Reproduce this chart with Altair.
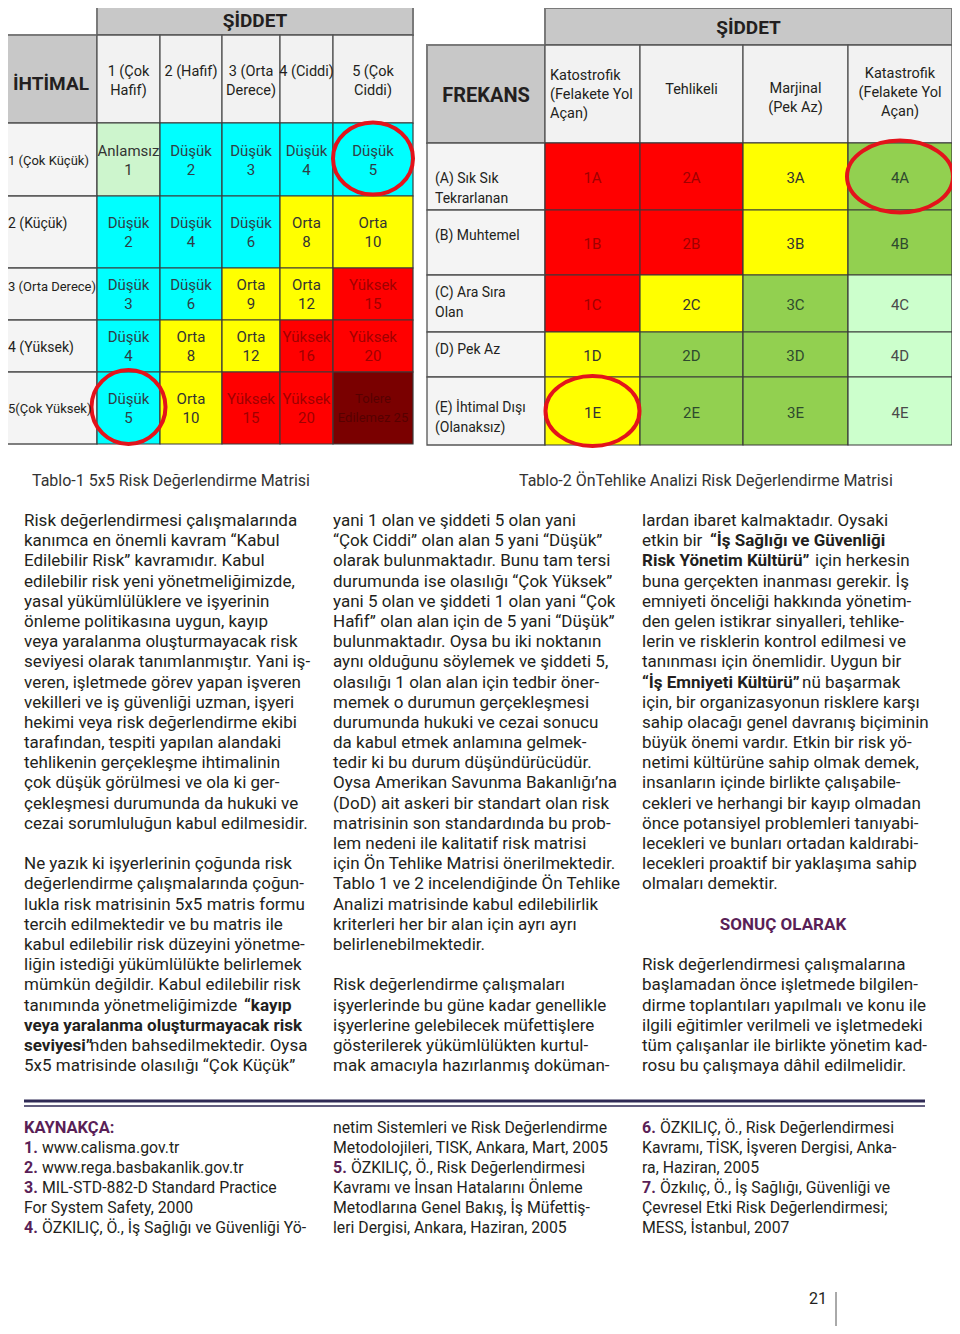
import re
import altair as alt
import pandas as pd

# ------------------------------------------------------------------ data
T1_SEVERITY = ["1 (Çok\nHafif)", "2 (Hafif)", "3 (Orta\nDerece)", "4 (Ciddi)", "5 (Çok\nCiddi)"]
T1_LIKELIHOOD = ["1 (Çok Küçük)", "2 (Küçük)", "3 (Orta Derece)", "4 (Yüksek)", "5(Çok Yüksek)"]
T1_LEVEL = [
    ["Anlamsız", "Düşük", "Düşük", "Düşük", "Düşük"],
    ["Düşük", "Düşük", "Düşük", "Orta", "Orta"],
    ["Düşük", "Düşük", "Orta", "Orta", "Yüksek"],
    ["Düşük", "Orta", "Orta", "Yüksek", "Yüksek"],
    ["Düşük", "Orta", "Yüksek", "Yüksek", "Tolere Edilemez"],
]
T1_SCORE = [
    [1, 2, 3, 4, 5],
    [2, 4, 6, 8, 10],
    [3, 6, 9, 12, 15],
    [4, 8, 12, 16, 20],
    [5, 10, 15, 20, 25],
]
T1_CIRCLED = [(0, 4), (4, 0)]
T1_TITLE = "ŞİDDET"
T1_CORNER = "İHTİMAL"

T2_SEVERITY = ["Katostrofik\n(Felakete Yol\nAçan)", "Tehlikeli", "Marjinal\n(Pek Az)",
               "Katastrofik\n(Felakete Yol\nAçan)"]
T2_FREQUENCY = ["(A) Sık Sık\nTekrarlanan", "(B) Muhtemel", "(C) Ara Sıra\nOlan", "(D) Pek Az",
                "(E) İhtimal Dışı\n(Olanaksız)"]
T2_CODES = ["A", "B", "C", "D", "E"]
T2_LEVEL = [
    ["red", "red", "yellow", "green"],
    ["red", "red", "yellow", "green"],
    ["red", "yellow", "green", "light"],
    ["yellow", "green", "green", "light"],
    ["yellow", "green", "green", "light"],
]
T2_CIRCLED = [(0, 3), (4, 0)]
T2_TITLE = "ŞİDDET"
T2_CORNER = "FREKANS"

CAPTIONS = ["Tablo-1  5x5 Risk Değerlendirme Matrisi",
            "Tablo-2 ÖnTehlike Analizi Risk Değerlendirme Matrisi"]

BODY_COL1 = [
    "Risk değerlendirmesi çalışmalarında",
    "kanımca en önemli kavram “Kabul",
    "Edilebilir Risk” kavramıdır. Kabul",
    "edilebilir risk yeni yönetmeliğimizde,",
    "yasal yükümlülüklere ve işyerinin",
    "önleme politikasına uygun, kayıp",
    "veya yaralanma oluşturmayacak risk",
    "seviyesi olarak tanımlanmıştır. Yani iş-",
    "veren, işletmede görev yapan işveren",
    "vekilleri ve iş güvenliği uzman, işyeri",
    "hekimi veya risk değerlendirme ekibi",
    "tarafından, tespiti yapılan alandaki",
    "tehlikenin gerçekleşme ihtimalinin",
    "çok düşük görülmesi ve ola ki ger-",
    "çekleşmesi durumunda da hukuki ve",
    "cezai sorumluluğun kabul edilmesidir.",
    "",
    "Ne yazık ki işyerlerinin çoğunda risk",
    "değerlendirme çalışmalarında çoğun-",
    "lukla risk matrisinin 5x5 matris formu",
    "tercih edilmektedir ve bu matris ile",
    "kabul edilebilir risk düzeyini yönetme-",
    "liğin istediği yükümlülükte belirlemek",
    "mümkün değildir. Kabul edilebilir risk",
    "tanımında yönetmeliğimizde **“kayıp",
    "**veya yaralanma oluşturmayacak risk",
    "**seviyesi”**nden bahsedilmektedir. Oysa",
    "5x5 matrisinde olasılığı “Çok Küçük”",
]
BODY_COL2 = [
    "yani 1 olan ve şiddeti 5 olan yani",
    "“Çok Ciddi” olan alan 5 yani “Düşük”",
    "olarak bulunmaktadır. Bunu tam tersi",
    "durumunda ise olasılığı “Çok Yüksek”",
    "yani 5 olan ve şiddeti 1 olan yani “Çok",
    "Hafif” olan alan için de 5 yani “Düşük”",
    "bulunmaktadır. Oysa bu iki noktanın",
    "aynı olduğunu söylemek ve şiddeti 5,",
    "olasılığı 1 olan alan için tedbir öner-",
    "memek o durumun gerçekleşmesi",
    "durumunda hukuki ve cezai sonucu",
    "da kabul etmek anlamına gelmek-",
    "tedir ki bu durum düşündürücüdür.",
    "Oysa Amerikan Savunma Bakanlığı’na",
    "(DoD) ait askeri bir standart olan risk",
    "matrisinin son standardında bu prob-",
    "lem nedeni ile kalitatif risk matrisi",
    "için Ön Tehlike Matrisi önerilmektedir.",
    "Tablo 1 ve 2 incelendiğinde Ön Tehlike",
    "Analizi matrisinde kabul edilebilirlik",
    "kriterleri her bir alan için ayrı ayrı",
    "belirlenebilmektedir.",
    "",
    "Risk değerlendirme çalışmaları",
    "işyerlerinde bu güne kadar genellikle",
    "işyerlerine gelebilecek müfettişlere",
    "gösterilerek yükümlülükten kurtul-",
    "mak amacıyla hazırlanmış doküman-",
]
BODY_COL3 = [
    "lardan ibaret kalmaktadır. Oysaki",
    "etkin bir **“İş Sağlığı ve Güvenliği",
    "**Risk Yönetim Kültürü”** için herkesin",
    "buna gerçekten inanması gerekir. İş",
    "emniyeti önceliği hakkında yönetim-",
    "den gelen istikrar sinyalleri, tehlike-",
    "lerin ve risklerin kontrol edilmesi ve",
    "tanınması için önemlidir. Uygun bir",
    "**“İş Emniyeti Kültürü”** nü başarmak",
    "için, bir organizasyonun risklere karşı",
    "sahip olacağı genel davranış biçiminin",
    "büyük önemi vardır. Etkin bir risk yö-",
    "netimi kültürüne sahip olmak demek,",
    "insanların içinde birlikte çalışabile-",
    "cekleri ve herhangi bir kayıp olmadan",
    "önce potansiyel problemleri tanıyabi-",
    "lecekleri ve bunları ortadan kaldırabi-",
    "lecekleri proaktif bir yaklaşıma sahip",
    "olmaları demektir.",
    "",
    "",
    "",
    "Risk değerlendirmesi çalışmalarına",
    "başlamadan önce işletmede bilgilen-",
    "dirme toplantıları yapılmalı ve konu ile",
    "ilgili eğitimler verilmeli ve işletmedeki",
    "tüm çalışanlar ile birlikte yönetim kad-",
    "rosu bu çalışmaya dâhil edilmelidir.",
]
HEADING = "SONUÇ OLARAK"

REF_HEADING = "KAYNAKÇA:"
REF_COL1 = ["", "1. www.calisma.gov.tr", "2. www.rega.basbakanlik.gov.tr",
            "3. MIL-STD-882-D Standard Practice", "For System Safety, 2000",
            "4. ÖZKILIÇ, Ö., İş Sağlığı ve Güvenliği Yö-"]
REF_COL2 = ["netim Sistemleri ve Risk Değerlendirme", "Metodolojileri, TISK, Ankara, Mart, 2005",
            "5. ÖZKILIÇ, Ö., Risk Değerlendirmesi", "Kavramı ve İnsan Hatalarını Önleme",
            "Metodlarına Genel Bakış, İş Müfettiş-", "leri Dergisi, Ankara, Haziran, 2005"]
REF_COL3 = ["6. ÖZKILIÇ, Ö., Risk Değerlendirmesi", "Kavramı, TİSK, İşveren Dergisi, Anka-",
            "ra, Haziran, 2005", "7. Özkılıç, Ö., İş Sağlığı, Güvenliği ve",
            "Çevresel Etki Risk Değerlendirmesi;", "MESS, İstanbul, 2007"]
PAGE_NUMBER = "21"

# ------------------------------------------------------------------ styles / layout
FONT = "Roboto"
TXT = "#231f20"
PURPLE = "#5a1f57"
GRID = "#555555"
HEAD_GRAY = "#c8c8c8"
HEAD_LIGHT = "#f2f2f2"

T1_FILL = {"Anlamsız": "#cdf5cd", "Düşük": "#00ffff", "Orta": "#ffff00",
           "Yüksek": "#ff0000", "Tolere Edilemez": "#7a0000"}
T1_INK = {"Anlamsız": "#333333", "Düşük": "#2f3e46", "Orta": "#333333",
          "Yüksek": "#a00000", "Tolere Edilemez": "#560000"}
T2_FILL = {"red": "#ff0000", "yellow": "#ffff00", "green": "#92d050", "light": "#ccffcc"}
T2_INK = {"red": "#a00000", "yellow": "#333333", "green": "#2e4a2e", "light": "#4a4a4a"}

T1_COLS = [5, 97, 160, 222, 280, 333, 413]
T1_TOP, T1_HEAD, T1_BODY = 5, 35, 123
T1_ROWS = [123, 196, 268, 320, 372, 444]
T1_LABEL_Y = [161, 224, 287, 348, 409]
T1_HEAD_Y = 72

T2_COLS = [427, 545, 640, 743, 848, 952]
T2_TOP, T2_HEAD, T2_BODY = 8, 45, 143
T2_ROWS = [143, 210, 275, 332, 377, 445]
T2_LABEL_Y = [179, 236, 293, 350, 408]
T2_HEAD_Y = [76, 90, 89, 74]
T2_HEAD_ALIGN = ["left", "center", "center", "center"]

T1_CIRCLE_WH = [(80, 72), (74, 74)]
T2_CIRCLE_WH = [(106, 72), (94, 70)]

COL_X = [24, 333, 642]
BODY_SIZE = 17
BODY_Y0, BODY_LH = 521, 20.19
SEG_X = {(0, 24, 1): 244, (0, 26, 2): 90, (2, 1, 1): 710, (2, 2, 2): 815, (2, 8, 2): 802}
REF_Y0, REF_LH = 1128, 20
REF_SIZE = 15.8

X0, X1, Y0, Y1 = 8, 952, 8, 1326
XS = alt.Scale(domain=[X0, X1], nice=False, zero=False)
YS = alt.Scale(domain=[Y0, Y1], nice=False, zero=False, reverse=True)

rect_rows, text_rows, circ_rows = [], [], []


def add_rect(x, x2, y, y2, fill, stroke=GRID, sw=1.3):
    rect_rows.append(dict(x=x, x2=x2, y=y, y2=y2, fill=fill, stroke=stroke, sw=sw))


def add_text(x, y, text, size=15, weight="normal", align="center", color=TXT, lh=19):
    for k, line in enumerate(text.split("\n")):
        text_rows.append(dict(x=x, y=y + k * lh, text=line, size=size, weight=weight,
                              align=align, color=color))


def ellipse(w, h):
    a = h / w
    return f"M -1 0 A 1 {a:.3f} 0 1 1 1 0 A 1 {a:.3f} 0 1 1 -1 0 Z"


# ---- table 1
add_rect(T1_COLS[1], T1_COLS[-1], T1_TOP, T1_HEAD, HEAD_GRAY, "#7a7a7a", 2)
add_text((T1_COLS[1] + T1_COLS[-1]) / 2, (T1_TOP + T1_HEAD) / 2 + 1, T1_TITLE, 19, "bold")
add_rect(T1_COLS[0], T1_COLS[1], T1_HEAD, T1_BODY, HEAD_GRAY, "#7a7a7a", 2)
add_text((T1_COLS[0] + T1_COLS[1]) / 2, (T1_HEAD + T1_BODY) / 2 + 5, T1_CORNER, 19, "bold")
for j, lab in enumerate(T1_SEVERITY):
    add_rect(T1_COLS[j + 1], T1_COLS[j + 2], T1_HEAD, T1_BODY, HEAD_LIGHT)
    add_text((T1_COLS[j + 1] + T1_COLS[j + 2]) / 2, T1_HEAD_Y, lab, 14.5)
for i, lab in enumerate(T1_LIKELIHOOD):
    add_rect(T1_COLS[0], T1_COLS[1], T1_ROWS[i], T1_ROWS[i + 1], "#f4f4f4")
    add_text(T1_COLS[0] + 3, T1_LABEL_Y[i], lab, 13 if len(lab) > 12 else 14, align="left")
    for j in range(5):
        lev = T1_LEVEL[i][j]
        x0, x1 = T1_COLS[j + 1], T1_COLS[j + 2]
        y0, y1 = T1_ROWS[i], T1_ROWS[i + 1]
        add_rect(x0, x1, y0, y1, T1_FILL[lev], "#3a3a3a", 1.2)
        if lev == "Tolere Edilemez":
            lab2 = f"Tolere\nEdilemez {T1_SCORE[i][j]}"
        else:
            lab2 = f"{lev}\n{T1_SCORE[i][j]}"
        add_text((x0 + x1) / 2, (y0 + y1) / 2 - 9, lab2, 15 if lev != "Tolere Edilemez" else 13,
                 color=T1_INK[lev])
for (i, j), (w, h) in zip(T1_CIRCLED, T1_CIRCLE_WH):
    circ_rows.append(dict(x=(T1_COLS[j + 1] + T1_COLS[j + 2]) / 2,
                          y=(T1_ROWS[i] + T1_ROWS[i + 1]) / 2 - 1,
                          path=ellipse(w, h), size=w * w))

# ---- table 2
add_rect(T2_COLS[1], T2_COLS[-1], T2_TOP, T2_HEAD, HEAD_GRAY, "#7a7a7a", 2)
add_text((T2_COLS[1] + T2_COLS[-1]) / 2, (T2_TOP + T2_HEAD) / 2 + 1, T2_TITLE, 19, "bold")
add_rect(T2_COLS[0], T2_COLS[1], T2_HEAD, T2_BODY, HEAD_GRAY, "#7a7a7a", 2)
add_text((T2_COLS[0] + T2_COLS[1]) / 2, (T2_HEAD + T2_BODY) / 2 + 2, T2_CORNER, 20, "bold")
for j, lab in enumerate(T2_SEVERITY):
    x0, x1 = T2_COLS[j + 1], T2_COLS[j + 2]
    add_rect(x0, x1, T2_HEAD, T2_BODY, HEAD_LIGHT)
    xx = x0 + 5 if T2_HEAD_ALIGN[j] == "left" else (x0 + x1) / 2
    add_text(xx, T2_HEAD_Y[j], lab, 14.5, align=T2_HEAD_ALIGN[j])
for i, lab in enumerate(T2_FREQUENCY):
    y0, y1 = T2_ROWS[i], T2_ROWS[i + 1]
    add_rect(T2_COLS[0], T2_COLS[1], y0, y1, "#f4f4f4")
    add_text(T2_COLS[0] + 8, T2_LABEL_Y[i], lab, 14, align="left", lh=19.5)
    for j in range(4):
        lev = T2_LEVEL[i][j]
        x0, x1 = T2_COLS[j + 1], T2_COLS[j + 2]
        add_rect(x0, x1, y0, y1, T2_FILL[lev], "#3a3a3a", 1.2)
        add_text((x0 + x1) / 2, (y0 + y1) / 2 + 1.5, f"{j + 1}{T2_CODES[i]}", 15, color=T2_INK[lev])
for (i, j), (w, h) in zip(T2_CIRCLED, T2_CIRCLE_WH):
    circ_rows.append(dict(x=(T2_COLS[j + 1] + T2_COLS[j + 2]) / 2,
                          y=(T2_ROWS[i] + T2_ROWS[i + 1]) / 2,
                          path=ellipse(w, h), size=w * w))

# ---- captions
add_text(32, 481, CAPTIONS[0], 16, align="left", color="#333333")
add_text(519, 481, CAPTIONS[1], 16, align="left", color="#333333")

# ---- body text
for c, col in enumerate([BODY_COL1, BODY_COL2, BODY_COL3]):
    for s, line in enumerate(col):
        if not line:
            continue
        segs = line.split("**")
        y = BODY_Y0 + s * BODY_LH
        started = False
        for k, seg in enumerate(segs):
            seg = seg.strip() if k > 0 else seg.rstrip()
            if not seg:
                continue
            x = SEG_X.get((c, s, k), COL_X[c]) if started else COL_X[c]
            add_text(x, y, seg, BODY_SIZE, "bold" if k % 2 else "normal", "left")
            started = True
add_text(783, BODY_Y0 + 20 * BODY_LH, HEADING, 17, "bold", color=PURPLE)

# ---- references
add_text(COL_X[0], REF_Y0, REF_HEADING, 16.5, "bold", "left", PURPLE)
for c, col in enumerate([REF_COL1, REF_COL2, REF_COL3]):
    for s, line in enumerate(col):
        if not line:
            continue
        y = REF_Y0 + s * REF_LH
        m = re.match(r"^(\d\.)\s(.*)$", line)
        if m:
            add_text(COL_X[c], y, m.group(1), 16, "bold", "left", PURPLE)
            add_text(COL_X[c] + 18, y, m.group(2), REF_SIZE, "normal", "left")
        else:
            add_text(COL_X[c], y, line, REF_SIZE, "normal", "left")

add_text(818, 1299, PAGE_NUMBER, 16)

# ------------------------------------------------------------------ chart
rect_df = pd.DataFrame(rect_rows)
text_df = pd.DataFrame(text_rows)
circ_df = pd.DataFrame(circ_rows)
hrule_df = pd.DataFrame(dict(x=[24, 24], x2=[925, 925], y=[1101, 1106], sw=[3, 1.5],
                             color=["#2f2a55", "#2f2a55"]))
vrule_df = pd.DataFrame(dict(x=[836], y=[1292], y2=[1334]))

X = lambda f: alt.X(f, scale=XS, axis=None)
Y = lambda f: alt.Y(f, scale=YS, axis=None)

layers = [
    alt.Chart(rect_df).mark_rect().encode(
        x=X("x:Q"), x2="x2:Q", y=Y("y:Q"), y2="y2:Q",
        color=alt.Color("fill:N", scale=None),
        stroke=alt.Stroke("stroke:N", scale=None),
        strokeWidth=alt.StrokeWidth("sw:Q", scale=None)),
    alt.Chart(circ_df).mark_point(filled=False, strokeWidth=4, color="#e3131b", opacity=1).encode(
        x=X("x:Q"), y=Y("y:Q"),
        shape=alt.Shape("path:N", scale=None),
        size=alt.Size("size:Q", scale=None)),
    alt.Chart(hrule_df).mark_rule().encode(
        x=X("x:Q"), x2="x2:Q", y=Y("y:Q"),
        strokeWidth=alt.StrokeWidth("sw:Q", scale=None),
        color=alt.Color("color:N", scale=None)),
    alt.Chart(vrule_df).mark_rule(color="#555555", strokeWidth=1).encode(
        x=X("x:Q"), y=Y("y:Q"), y2="y2:Q"),
]
for (w, a), sub in text_df.groupby(["weight", "align"]):
    layers.append(
        alt.Chart(sub).mark_text(font=FONT, fontWeight=w, align=a, baseline="middle").encode(
            x=X("x:Q"), y=Y("y:Q"), text="text:N",
            size=alt.Size("size:Q", scale=None),
            color=alt.Color("color:N", scale=None)))

chart = alt.layer(*layers).properties(
    width=X1 - X0, height=Y1 - Y0, padding=0,
    autosize=alt.AutoSizeParams(type="none"),
    background="white",
).configure_view(stroke=None)

chart.save("out.html", embed_options={"renderer": "svg", "actions": False})
